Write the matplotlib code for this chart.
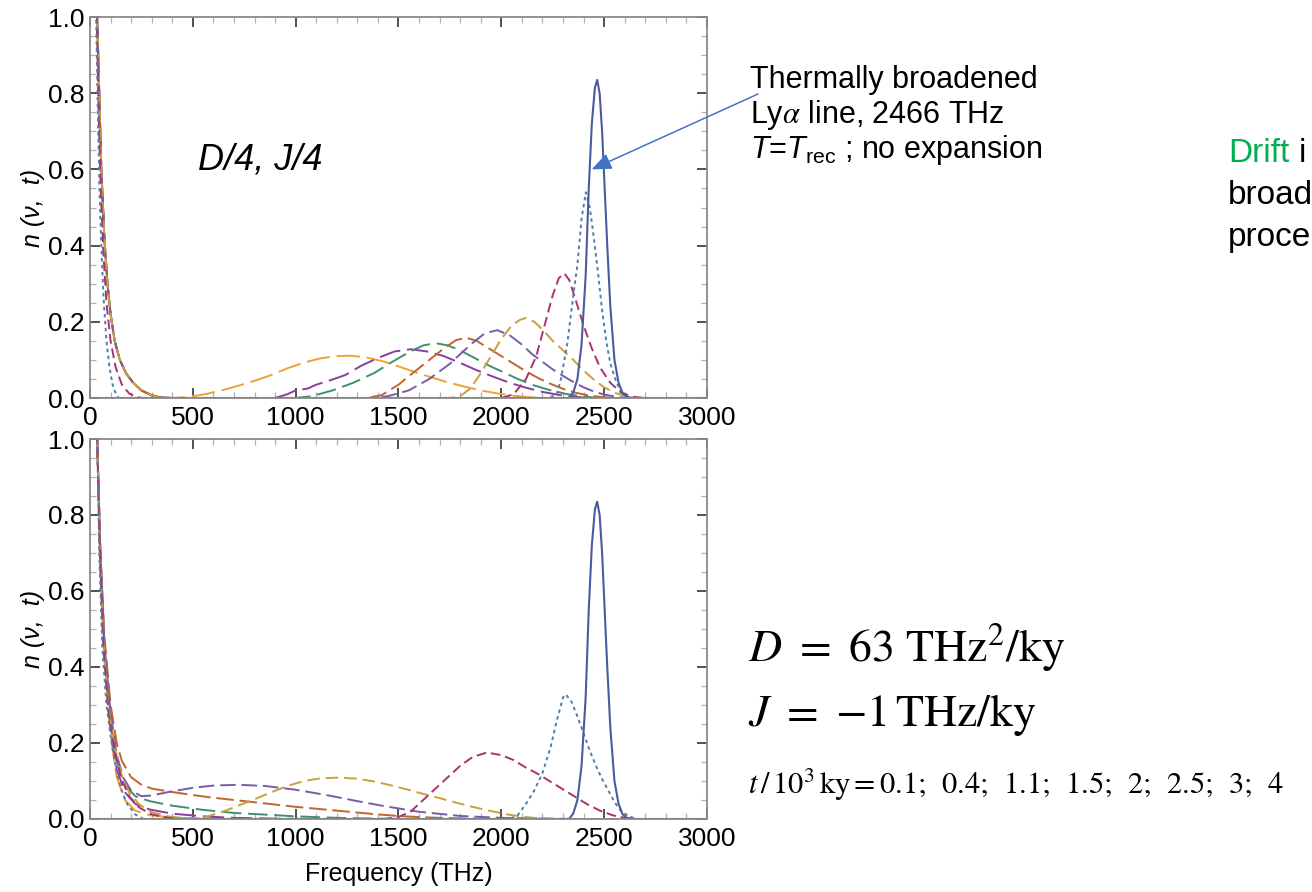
import matplotlib
matplotlib.use('Agg')
import matplotlib.pyplot as plt
from matplotlib.ticker import MultipleLocator

plt.rcParams['font.family'] = ['Liberation Sans', 'DejaVu Sans']
plt.rcParams['mathtext.fontset'] = 'custom'
plt.rcParams['mathtext.rm'] = 'Liberation Sans'
plt.rcParams['mathtext.it'] = 'Liberation Sans:italic'
plt.rcParams['mathtext.bf'] = 'Liberation Sans:bold'

# ---------------- data ----------------
times = ['0', '0.1', '0.4', '1.1', '1.5', '2', '2.5', '3', '4']   # t / 10^3 ky
x_ticks = [0, 500, 1000, 1500, 2000, 2500, 3000]
y_ticks = [0.0, 0.2, 0.4, 0.6, 0.8, 1.0]

# ---- top panel (D/4, J/4) ----
top_low_x = [28, 35, 45, 55, 70, 85, 100, 120, 145, 175, 210, 250, 300, 350, 400]
top_low_y = [1.4, 1.0, 0.8, 0.6, 0.42, 0.3, 0.22, 0.15, 0.1, 0.065, 0.04, 0.02, 0.007, 0.001, 0.0]

top_x_t0 = [0, 2330, 2350, 2370, 2390, 2410, 2425, 2440, 2455, 2466, 2478, 2490, 2500, 2515, 2530, 2550, 2570, 2590, 2610, 2640, 3000]
top_y_t0 = [0, 0, 0.015, 0.05, 0.14, 0.32, 0.55, 0.72, 0.815, 0.835, 0.8, 0.7, 0.58, 0.4, 0.24, 0.1, 0.04, 0.012, 0.003, 0, 0]

top_x_t01 = [28, 30, 38, 46, 55, 65, 80, 95, 110, 125, 140, 2230, 2270, 2290, 2320, 2350, 2370, 2390, 2411, 2430, 2450, 2470, 2490, 2510, 2530, 2560, 2590, 2630, 3000]
top_y_t01 = [1.4, 1.0, 0.75, 0.55, 0.4, 0.27, 0.15, 0.08, 0.035, 0.012, 0.0, 0, 0.01, 0.05, 0.14, 0.27, 0.35, 0.47, 0.54, 0.5, 0.42, 0.33, 0.23, 0.15, 0.09, 0.04, 0.01, 0, 0]

top_x_t04 = [30, 33, 42, 52, 65, 80, 100, 125, 155, 190, 230, 260, 2000, 2060, 2120, 2170, 2210, 2250, 2280, 2306, 2330, 2360, 2400, 2440, 2480, 2530, 2580, 2640, 2700, 3000]
top_y_t04 = [1.4, 1.0, 0.75, 0.55, 0.38, 0.25, 0.15, 0.08, 0.035, 0.012, 0.002, 0, 0, 0.01, 0.05, 0.11, 0.19, 0.27, 0.315, 0.327, 0.31, 0.26, 0.19, 0.13, 0.08, 0.04, 0.015, 0.003, 0, 0]

top_x_t11 = [1750, 1800, 1850, 1900, 1950, 2000, 2050, 2090, 2120, 2160, 2200, 2250, 2300, 2350, 2400, 2450, 2500, 2560, 2620, 2680, 3000]
top_y_t11 = [0, 0.005, 0.025, 0.065, 0.11, 0.155, 0.19, 0.205, 0.21, 0.2, 0.18, 0.15, 0.125, 0.1, 0.072, 0.048, 0.028, 0.012, 0.003, 0, 0]

top_x_t15 = [1380, 1450, 1550, 1650, 1750, 1850, 1920, 1980, 2040, 2100, 2150, 2200, 2250, 2300, 2350, 2400, 2450, 2500, 2560, 2620, 3000]
top_y_t15 = [0, 0.005, 0.02, 0.05, 0.09, 0.14, 0.17, 0.178, 0.165, 0.14, 0.115, 0.095, 0.075, 0.058, 0.042, 0.028, 0.017, 0.009, 0.003, 0, 0]

top_x_t2 = [1350, 1420, 1500, 1580, 1650, 1720, 1780, 1830, 1880, 1940, 2000, 2060, 2120, 2180, 2240, 2300, 2360, 2430, 2500, 2560, 3000]
top_y_t2 = [0, 0.008, 0.035, 0.07, 0.1, 0.13, 0.152, 0.158, 0.15, 0.13, 0.11, 0.09, 0.07, 0.052, 0.037, 0.024, 0.014, 0.006, 0.002, 0, 0]

top_x_t25 = [1000, 1080, 1180, 1280, 1380, 1470, 1550, 1620, 1680, 1740, 1800, 1870, 1940, 2000, 2080, 2160, 2240, 2320, 2400, 2480, 3000]
top_y_t25 = [0, 0.005, 0.02, 0.04, 0.065, 0.095, 0.12, 0.138, 0.144, 0.138, 0.125, 0.105, 0.085, 0.07, 0.05, 0.033, 0.02, 0.01, 0.004, 0, 0]

top_x_t3 = [900, 960, 1000, 1060, 1100, 1160, 1240, 1320, 1400, 1480, 1560, 1640, 1720, 1800, 1880, 1960, 2040, 2120, 2200, 2280, 2360, 2440, 3000]
top_y_t3 = [0, 0.01, 0.02, 0.025, 0.035, 0.045, 0.06, 0.085, 0.105, 0.122, 0.128, 0.122, 0.11, 0.092, 0.073, 0.056, 0.04, 0.027, 0.016, 0.008, 0.003, 0, 0]

top_x_t4 = [480, 560, 640, 720, 800, 880, 960, 1040, 1120, 1200, 1260, 1340, 1420, 1500, 1580, 1660, 1740, 1820, 1900, 1980, 2060, 2140, 2220, 3000]
top_y_t4 = [0.003, 0.01, 0.02, 0.032, 0.045, 0.06, 0.078, 0.093, 0.104, 0.11, 0.111, 0.107, 0.097, 0.083, 0.068, 0.054, 0.041, 0.03, 0.02, 0.012, 0.006, 0.002, 0, 0]

# ---- bottom panel (D = 63 THz^2/ky, J = -1 THz/ky) ----
bot_x_t0 = [0, 2330, 2350, 2370, 2390, 2410, 2425, 2440, 2455, 2466, 2478, 2490, 2500, 2515, 2530, 2550, 2570, 2590, 2610, 2640, 3000]
bot_y_t0 = [0, 0, 0.015, 0.05, 0.14, 0.32, 0.55, 0.72, 0.815, 0.835, 0.8, 0.7, 0.58, 0.4, 0.24, 0.1, 0.04, 0.012, 0.003, 0, 0]

bot_x_t01 = [28, 35, 45, 60, 80, 100, 120, 150, 180, 220, 260, 2040, 2080, 2120, 2160, 2200, 2240, 2270, 2300, 2313, 2340, 2370, 2400, 2430, 2460, 2490, 2520, 2550, 2580, 2620, 2660, 3000]
bot_y_t01 = [1.4, 1.0, 0.7, 0.45, 0.3, 0.22, 0.15, 0.08, 0.04, 0.012, 0, 0, 0.01, 0.04, 0.075, 0.12, 0.19, 0.26, 0.32, 0.328, 0.31, 0.27, 0.225, 0.18, 0.14, 0.105, 0.075, 0.045, 0.022, 0.007, 0, 0]

bot_x_t04 = [28, 35, 48, 65, 90, 120, 150, 190, 240, 300, 380, 450, 1430, 1500, 1560, 1620, 1680, 1740, 1800, 1860, 1930, 2000, 2060, 2120, 2180, 2240, 2300, 2360, 2420, 2480, 2540, 2600, 2660, 3000]
bot_y_t04 = [1.4, 1.0, 0.7, 0.45, 0.28, 0.18, 0.11, 0.06, 0.03, 0.012, 0.003, 0, 0, 0.005, 0.02, 0.05, 0.08, 0.11, 0.14, 0.163, 0.175, 0.168, 0.155, 0.135, 0.118, 0.098, 0.078, 0.058, 0.038, 0.022, 0.01, 0.003, 0, 0]

bot_x_t11 = [28, 35, 48, 65, 90, 120, 150, 190, 240, 300, 380, 460, 520, 560, 640, 720, 800, 880, 960, 1040, 1120, 1210, 1300, 1380, 1460, 1540, 1620, 1700, 1780, 1860, 1940, 2020, 2100, 2180, 2260, 3000]
bot_y_t11 = [1.4, 1.0, 0.7, 0.46, 0.29, 0.19, 0.12, 0.07, 0.038, 0.018, 0.007, 0.002, 0.002, 0.005, 0.018, 0.035, 0.052, 0.07, 0.087, 0.1, 0.107, 0.109, 0.106, 0.099, 0.089, 0.078, 0.066, 0.055, 0.043, 0.032, 0.022, 0.013, 0.006, 0.002, 0, 0]

bot_x_t15 = [28, 35, 50, 70, 100, 130, 160, 200, 250, 300, 400, 500, 600, 720, 850, 1000, 1150, 1300, 1430, 1600, 1800, 2000, 2200, 2400, 3000]
bot_y_t15 = [1.4, 1.0, 0.7, 0.46, 0.28, 0.17, 0.11, 0.075, 0.06, 0.062, 0.073, 0.082, 0.088, 0.09, 0.087, 0.077, 0.063, 0.047, 0.034, 0.019, 0.008, 0.003, 0.001, 0, 0]

bot_x_t2 = [28, 35, 50, 70, 100, 130, 155, 200, 250, 300, 400, 500, 600, 700, 800, 900, 1000, 1100, 1200, 1300, 1400, 1500, 1600, 1700, 1850, 2000, 3000]
bot_y_t2 = [1.4, 1.0, 0.72, 0.48, 0.3, 0.2, 0.153, 0.11, 0.09, 0.08, 0.071, 0.063, 0.056, 0.05, 0.044, 0.038, 0.032, 0.027, 0.022, 0.017, 0.012, 0.008, 0.005, 0.003, 0.001, 0, 0]

bot_x_t25 = [28, 35, 50, 70, 100, 130, 170, 220, 290, 400, 550, 700, 870, 1000, 1200, 1400, 1600, 3000]
bot_y_t25 = [1.4, 1.0, 0.7, 0.45, 0.26, 0.15, 0.09, 0.06, 0.047, 0.035, 0.024, 0.016, 0.011, 0.007, 0.003, 0.001, 0, 0]

bot_x_t3 = [28, 35, 50, 70, 100, 130, 170, 220, 290, 400, 550, 700, 900, 1100, 3000]
bot_y_t3 = [1.4, 1.0, 0.7, 0.44, 0.24, 0.13, 0.07, 0.04, 0.025, 0.014, 0.007, 0.003, 0.001, 0, 0]

bot_x_t4 = [28, 35, 50, 70, 100, 130, 170, 220, 290, 400, 550, 700, 3000]
bot_y_t4 = [1.4, 1.0, 0.7, 0.43, 0.22, 0.11, 0.05, 0.022, 0.01, 0.004, 0.001, 0, 0]

# ---------------- styles ----------------
colors = ['#4a5a9e', '#4f80a6', '#a8336f', '#c9a03c', '#7b5ba8',
          '#c0652c', '#3e9070', '#8b3d9e', '#eea236']
dash_styles = [None, (1.8, 1.8), (5, 2.5), (6.5, 3), (8, 3), (9, 3),
               (10, 3.5), (11, 3.5), (12, 3.5)]

top_series = [
    (top_x_t0, top_y_t0),
    (top_x_t01, top_y_t01),
    (top_x_t04, top_y_t04),
    (top_low_x + top_x_t11, top_low_y + top_y_t11),
    (top_low_x + top_x_t15, top_low_y + top_y_t15),
    (top_low_x + top_x_t2, top_low_y + top_y_t2),
    (top_low_x + top_x_t25, top_low_y + top_y_t25),
    (top_low_x + top_x_t3, top_low_y + top_y_t3),
    (top_low_x + top_x_t4, top_low_y + top_y_t4),
]
bot_series = [
    (bot_x_t0, bot_y_t0),
    (bot_x_t01, bot_y_t01),
    (bot_x_t04, bot_y_t04),
    (bot_x_t11, bot_y_t11),
    (bot_x_t15, bot_y_t15),
    (bot_x_t2, bot_y_t2),
    (bot_x_t25, bot_y_t25),
    (bot_x_t3, bot_y_t3),
    (bot_x_t4, bot_y_t4),
]

W, H = 1312, 892
fig = plt.figure(figsize=(W / 100, H / 100), dpi=100)


def fx(px):
    return px / W


def fy(py):
    return 1 - py / H


def style_axes(ax):
    ax.set_xlim(0, 3000)
    ax.set_ylim(0, 1.0)
    ax.set_xticks(x_ticks)
    ax.set_xticklabels([str(v) for v in x_ticks])
    ax.set_yticks(y_ticks)
    ax.set_yticklabels([f'{v:.1f}' for v in y_ticks])
    ax.xaxis.set_minor_locator(MultipleLocator(100))
    ax.yaxis.set_minor_locator(MultipleLocator(0.05))
    ax.tick_params(which='both', direction='in', top=True, right=True,
                   labelsize=19, pad=4)
    ax.tick_params(axis='x', which='major', pad=6)
    ax.tick_params(which='major', length=7, width=1.1, color='#222222')
    ax.tick_params(which='minor', length=4, width=0.9, color='#b0b0b0')
    for s in ax.spines.values():
        s.set_color('#8a8a8a')
        s.set_linewidth(1.3)
    ax.set_ylabel('n (ν,  t)', fontsize=18, style='italic', labelpad=2)


def draw(ax, series):
    for i in reversed(range(len(series))):
        xs, ys = series[i]
        if dash_styles[i] is None:
            ax.plot(xs, ys, color=colors[i], lw=1.5, solid_capstyle='butt')
        else:
            ax.plot(xs, ys, color=colors[i], lw=1.4, dashes=dash_styles[i])


ax_top = fig.add_axes([fx(90), fy(398), (707 - 90) / W, (398 - 17) / H])
ax_bot = fig.add_axes([fx(90), fy(819), (707 - 90) / W, (819 - 439) / H])
for ax, ser in ((ax_top, top_series), (ax_bot, bot_series)):
    style_axes(ax)
    draw(ax, ser)

ax_bot.set_xlabel('Frequency (THz)', fontsize=18, labelpad=8)

# panel label
fig.text(fx(198), fy(160), 'D/4, J/4', fontsize=26, style='italic',
         ha='left', va='center')

# annotation for the thermal line
fig.text(fx(750), fy(88), 'Thermally broadened', fontsize=22, ha='left', va='baseline')
fig.text(fx(750), fy(123), r'Ly$\alpha$ line, 2466 THz', fontsize=22, ha='left',
         va='baseline', math_fontfamily='stix')
fig.text(fx(750), fy(158), r'$T$=$T_{\mathrm{rec}}$ ; no expansion', fontsize=22,
         ha='left', va='baseline')
ax_top.annotate('', xy=(2439, 0.600), xycoords='data',
                xytext=(fx(758), fy(94)), textcoords='figure fraction',
                arrowprops=dict(arrowstyle='-|>,head_length=0.6,head_width=0.25',
                                color='#4472C4', lw=1.1, mutation_scale=20,
                                shrinkA=0, shrinkB=0))

# right side text (cut by the picture edge)
fig.text(fx(1228), fy(162), 'Drift', fontsize=24, color='#00B050', ha='left', va='baseline')
fig.text(fx(1299), fy(162), 'i', fontsize=24, color='black', ha='left', va='baseline')
fig.text(fx(1228), fy(204), 'broad', fontsize=24, ha='left', va='baseline')
fig.text(fx(1228), fy(246), 'proce', fontsize=24, ha='left', va='baseline')

# parameter text
fig.text(fx(748), fy(662), r'$D\ =\ 63\ \mathrm{THz}^{2}/\mathrm{ky}$', fontsize=33,
         ha='left', va='baseline', math_fontfamily='stix')
fig.text(fx(748), fy(726), r'$J\ =\ {-}1\,\mathrm{THz/ky}$', fontsize=33,
         ha='left', va='baseline', math_fontfamily='stix')
fig.text(fx(748), fy(794),
         r'$t\,/\,10^{3}\,\mathrm{ky} = 0.1;\ \,0.4;\ \,1.1;\ \,1.5;\ \,2;\ \,2.5;\ \,3;\ \,4$',
         fontsize=22, ha='left', va='baseline', math_fontfamily='stix')

fig.savefig('out.png', dpi=100, facecolor='white')
